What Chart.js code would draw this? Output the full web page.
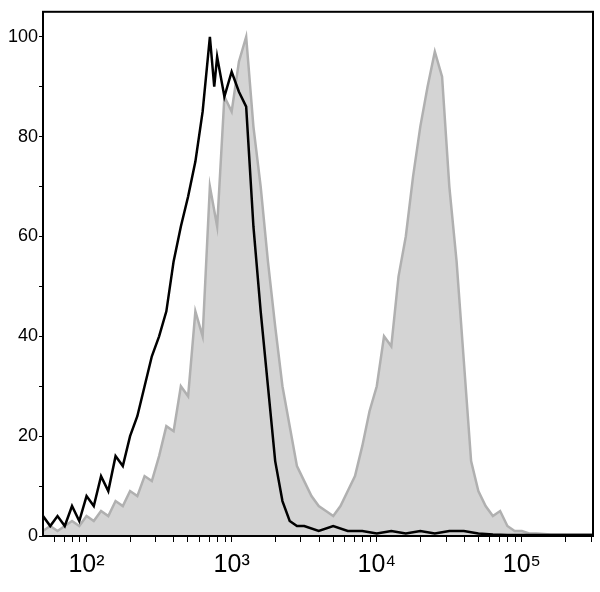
<!DOCTYPE html>
<html><head><script src="https://cdn.jsdelivr.net/npm/chart.js@4"></script>
<style>body{margin:0;background:#fff}#w{width:600px;height:592px}</style></head>
<body><div id="w"><canvas id="chart"></canvas></div>
<script>
const grayX = [1.70,1.75,1.80,1.85,1.90,1.95,2.00,2.05,2.10,2.15,2.20,2.25,2.30,2.35,2.40,2.45,2.50,2.55,2.60,2.65,2.70,2.75,2.80,2.85,2.90,2.95,3.00,3.05,3.10,3.15,3.20,3.25,3.30,3.35,3.40,3.45,3.50,3.55,3.60,3.65,3.70,3.75,3.80,3.85,3.90,3.95,4.00,4.05,4.10,4.15,4.20,4.25,4.30,4.35,4.40,4.45,4.50,4.55,4.60,4.65,4.70,4.75,4.80,4.85,4.90,4.95,5.00,5.05,5.10,5.20,5.30,5.49];
const grayY = [1,2,1,2,3,2,4,3,5,4,7,6,9,8,12,11,16,22,21,30,28,45,40,70,62,88,85,95,100,82,70,55,42,30,22,14,11,8,6,5,4,6,9,12,18,25,30,40,38,52,60,72,82,90,97,92,70,55,35,15,9,6,4,5,2,1,1,0.5,0.5,0.3,0.3,0.3];
const blackX = [1.70,1.75,1.80,1.85,1.90,1.95,2.00,2.05,2.10,2.15,2.20,2.25,2.30,2.35,2.40,2.45,2.50,2.55,2.60,2.65,2.70,2.75,2.80,2.85,2.88,2.90,2.95,3.00,3.05,3.10,3.15,3.20,3.25,3.30,3.35,3.40,3.45,3.50,3.60,3.70,3.80,3.90,4.00,4.10,4.20,4.30,4.40,4.50,4.60,4.70,4.80,4.90,5.00,5.49];
const blackY = [4,2,4,2,6,3,8,6,12,9,16,14,20,24,30,36,40,45,55,62,68,75,85,100,90,96,88,93,89,86,62,45,30,15,7,3,2,2,1,2,1,1,0.5,1,0.5,1,0.5,1,1,0.5,0.3,0.2,0.2,0.2];
const xTicks = [2,3,4,5];
const xTickLabels = ['10²','10³','10⁴','10⁵'];
const yTicks = [0,10,20,30,40,50,60,70,80,90,100];

const pts = (xs, ys) => xs.map((x, i) => ({x: x, y: ys[i]}));
const minorX = [];
for (let d = 1; d <= 5; d++) for (let k = 1; k < 10; k++) {
    const v = d + Math.log10(k);
    if (v >= 1.7 && v <= 5.49) minorX.push(v);
}

const boxPlugin = {
    id: 'box',
    afterDraw(chart) {
        const a = chart.chartArea, c = chart.ctx;
        c.save(); c.strokeStyle = '#000'; c.lineWidth = 2;
        c.strokeRect(a.left, a.top, a.right - a.left, a.bottom - a.top);
        c.restore();
    }
};

new Chart(document.getElementById('chart'), {
    type: 'line',
    data: { datasets: [
        { data: pts(blackX, blackY), borderColor: '#000', fill: false, borderWidth: 2.5, pointRadius: 0, tension: 0, order: 0 },
        { data: pts(grayX, grayY), borderColor: '#b0b0b0', backgroundColor: '#d4d4d4', fill: 'origin', borderWidth: 2.5, pointRadius: 0, tension: 0, order: 1 }
    ]},
    options: {
        responsive: true, maintainAspectRatio: false, animation: false,
        layout: { padding: { top: 7, right: 7 } },
        plugins: { legend: { display: false }, tooltip: { enabled: false } },
        scales: {
            x: {
                type: 'linear', min: 1.7, max: 5.49,
                afterBuildTicks: s => { s.ticks = minorX.map(v => ({ value: v })); },
                afterFit: s => { s.height = 56; },
                border: { color: '#000', width: 2 },
                grid: { drawOnChartArea: false, color: '#000', tickLength: 6, tickWidth: 1 },
                ticks: {
                    autoSkip: false, maxRotation: 0, color: '#000', padding: 8,
                    font: { family: 'Liberation Sans', size: 25 },
                    callback: v => { const i = xTicks.indexOf(Math.round(v * 1000) / 1000); return i >= 0 ? xTickLabels[i] : ''; }
                }
            },
            y: {
                min: 0, max: 105,
                afterBuildTicks: s => { s.ticks = yTicks.map(v => ({ value: v })); },
                afterFit: s => { s.width = 43; },
                border: { color: '#000', width: 2 },
                grid: { drawOnChartArea: false, color: '#000', tickLength: 4 },
                ticks: {
                    color: '#000', padding: 1,
                    font: { family: 'Liberation Sans', size: 18 },
                    callback: v => v % 20 === 0 ? String(v) : ''
                }
            }
        }
    },
    plugins: [boxPlugin]
});
</script></body></html>
